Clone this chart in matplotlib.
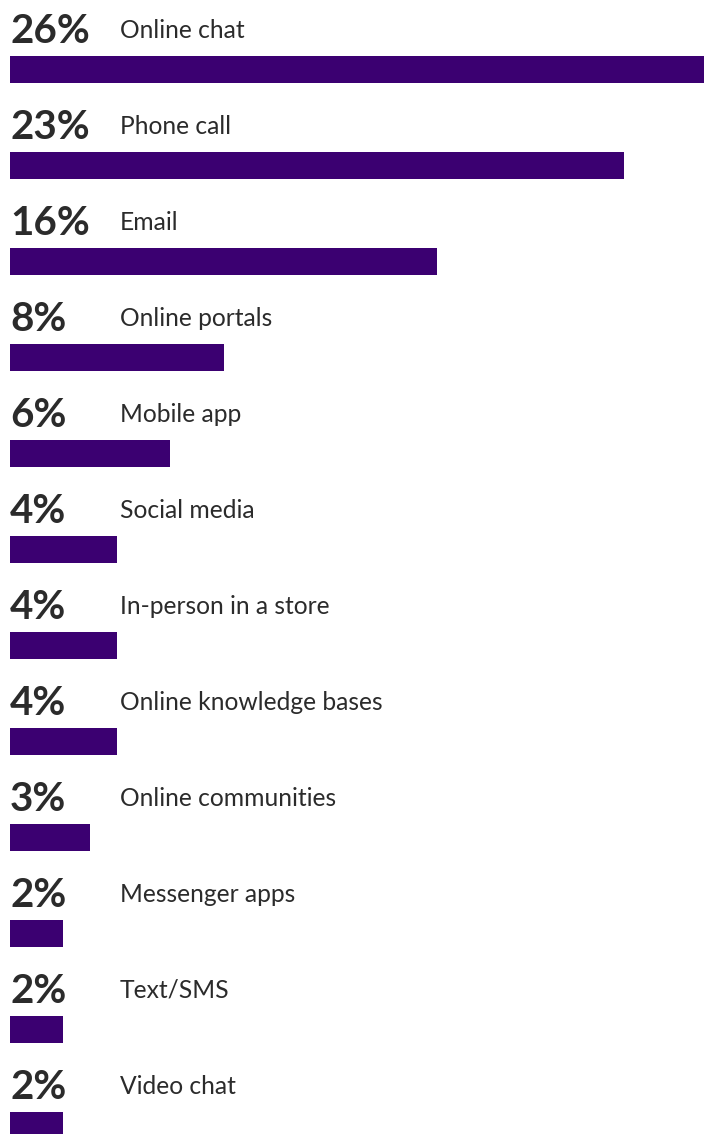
import matplotlib
matplotlib.use("Agg")
import matplotlib.pyplot as plt

categories = ["Online chat", "Phone call", "Email", "Online portals", "Mobile app",
              "Social media", "In-person in a store", "Online knowledge bases",
              "Online communities", "Messenger apps", "Text/SMS", "Video chat"]
values = [26, 23, 16, 8, 6, 4, 4, 4, 3, 2, 2, 2]
value_labels = ["26%", "23%", "16%", "8%", "6%", "4%", "4%", "4%", "3%", "2%", "2%", "2%"]

W, H, DPI = 704, 1134, 100
BAR_COLOR = "#3b0071"
TEXT_COLOR = "#2b2b2b"

# layout in pixels
left_px = 10
px_per_unit = 694 / 26
row_step = 96
first_bar_top = 56
bar_h = 27
label_x_px = 120


def px_to_x(px):
    return (px - left_px) / px_per_unit


fig = plt.figure(figsize=(W / DPI, H / DPI), dpi=DPI)
ax = fig.add_axes([0, 0, 1, 1])
ax.set_xlim(px_to_x(0), px_to_x(W))
ax.set_ylim(H, 0)
ax.axis("off")

for i, (cat, val, lab) in enumerate(zip(categories, values, value_labels)):
    top = first_bar_top + i * row_step
    ax.barh(top + bar_h / 2, val, height=bar_h, left=0, color=BAR_COLOR)
    ax.text(px_to_x(left_px), top - 13, lab, fontsize=29, fontweight="bold",
            family="Lato", color=TEXT_COLOR, ha="left", va="baseline")
    ax.text(px_to_x(label_x_px), top - 18, cat, fontsize=17.7,
            family="Lato", color=TEXT_COLOR, ha="left", va="baseline")

fig.savefig("out.png", dpi=DPI)
